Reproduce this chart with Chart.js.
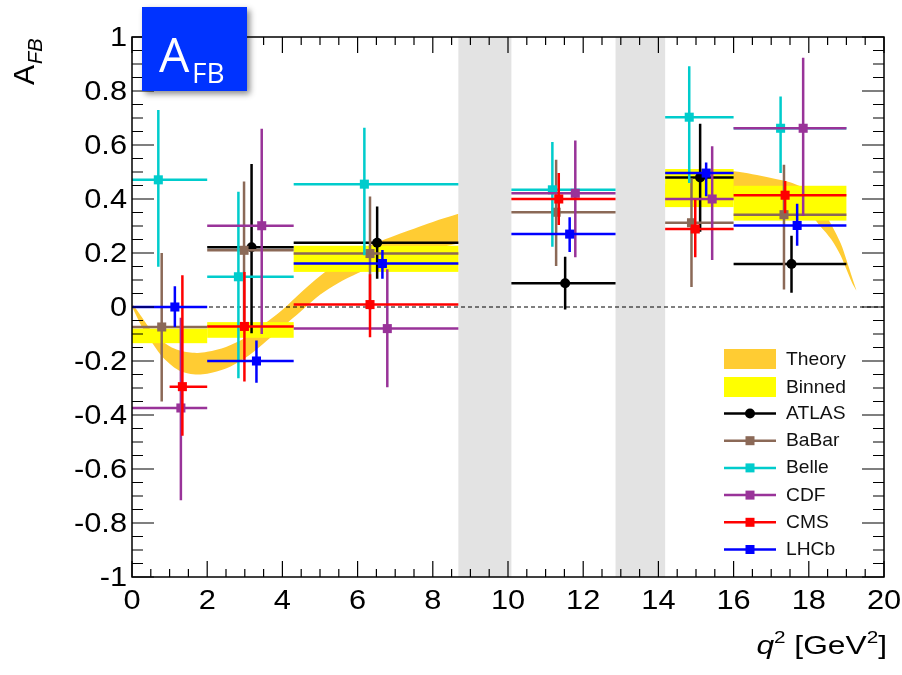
<!DOCTYPE html>
<html lang="en">
  <head>
    <meta charset="UTF-8" />
    <title>AFB vs q2</title>
    <script src="https://cdn.jsdelivr.net/npm/chart.js@4"></script>
    <style>
      html,
      body {
        margin: 0;
        padding: 0;
        background: #fff;
      }
      .chart-container {
        position: relative;
        width: 902px;
        height: 675px;
      }
    </style>
  </head>
  <body>
    <div class="chart-container">
      <canvas id="afbChart"></canvas>
    </div>

    <script>
      // axis ticks
      const xTicks = [0, 2, 4, 6, 8, 10, 12, 14, 16, 18, 20];
      const yTicks = [-1, -0.8, -0.6, -0.4, -0.2, 0, 0.2, 0.4, 0.6, 0.8, 1];
      const yTickLabels = ["-1", "-0.8", "-0.6", "-0.4", "-0.2", "0", "0.2", "0.4", "0.6", "0.8", "1"];

      // charmonium veto regions (grey)
      const vetoLo = [8.68, 12.86];
      const vetoHi = [10.09, 14.18];

      // theory band, low q2 piece
      const theoryQ2a = [0.02, 0.25, 0.5, 0.75, 1.0, 1.25, 1.5, 1.75, 2.0, 2.5, 3.0, 3.5, 4.0, 4.5, 5.0, 5.5, 6.0, 6.5, 7.0, 7.5, 8.0, 8.68];
      const theoryUpA = [0.01, -0.035, -0.085, -0.12, -0.145, -0.16, -0.168, -0.17, -0.166, -0.148, -0.115, -0.065, -0.01, 0.055, 0.115, 0.165, 0.205, 0.238, 0.265, 0.29, 0.315, 0.345];
      const theoryDnA = [-0.005, -0.07, -0.125, -0.175, -0.21, -0.235, -0.246, -0.25, -0.247, -0.228, -0.19, -0.135, -0.075, -0.015, 0.045, 0.09, 0.125, 0.155, 0.18, 0.2, 0.215, 0.235];

      // theory band, high q2 piece
      const theoryQ2b = [14.18, 14.5, 15.0, 15.5, 16.0, 16.5, 17.0, 17.5, 18.0, 18.3, 18.6, 18.85, 19.0, 19.15, 19.27];
      const theoryUpB = [0.455, 0.47, 0.485, 0.497, 0.503, 0.492, 0.478, 0.462, 0.43, 0.375, 0.305, 0.235, 0.175, 0.11, 0.06];
      const theoryDnB = [0.37, 0.38, 0.39, 0.4, 0.4, 0.395, 0.385, 0.37, 0.345, 0.3, 0.25, 0.19, 0.14, 0.09, 0.06];

      // binned theory (yellow boxes)
      const binLo = [0, 2, 4.3, 14.18, 16];
      const binHi = [2, 4.3, 8.68, 16, 19];
      const binUp = [-0.08, -0.056, 0.227, 0.511, 0.449];
      const binDn = [-0.134, -0.114, 0.13, 0.37, 0.32];

      // measurements
      const atlasQ2 = [3.18, 6.52, 11.52, 15.11, 17.54];
      const atlasLo = [2, 4.3, 10.09, 14.18, 16];
      const atlasHi = [4.3, 8.68, 12.86, 16, 19];
      const atlasA = [0.221, 0.238, 0.088, 0.48, 0.159];
      const atlasUp = [0.53, 0.372, 0.186, 0.679, 0.264];
      const atlasDn = [-0.097, 0.105, -0.009, 0.279, 0.053];

      const babarQ2 = [0.79, 2.98, 6.33, 11.28, 14.88, 17.34];
      const babarLo = [0, 2, 4.3, 10.09, 14.18, 16];
      const babarHi = [2, 4.3, 8.68, 12.86, 16, 19];
      const babarA = [-0.074, 0.21, 0.198, 0.351, 0.312, 0.342];
      const babarUp = [0.2, 0.465, 0.409, 0.545, 0.477, 0.527];
      const babarDn = [-0.35, -0.05, -0.01, 0.152, 0.074, 0.065];

      const belleQ2 = [0.7, 2.83, 6.18, 11.18, 14.82, 17.25];
      const belleLo = [0, 2, 4.3, 10.09, 14.18, 16];
      const belleHi = [2, 4.3, 8.68, 12.86, 16, 19];
      const belleA = [0.471, 0.112, 0.455, 0.434, 0.703, 0.662];
      const belleUp = [0.73, 0.427, 0.664, 0.611, 0.892, 0.78];
      const belleDn = [0.149, -0.264, 0.192, 0.223, 0.459, 0.496];

      const cdfQ2 = [1.3, 3.45, 6.79, 11.79, 15.43, 17.85];
      const cdfLo = [0, 2, 4.3, 10.09, 14.18, 16];
      const cdfHi = [2, 4.3, 8.68, 12.86, 16, 19];
      const cdfA = [-0.374, 0.301, -0.08, 0.421, 0.4, 0.662];
      const cdfUp = [-0.04, 0.66, 0.14, 0.617, 0.595, 0.923];
      const cdfDn = [-0.716, -0.1, -0.297, 0.184, 0.174, 0.337];

      const cmsQ2 = [1.34, 2.99, 6.33, 11.35, 14.98, 17.37];
      const cmsLo = [1, 2, 4.3, 10.09, 14.18, 16];
      const cmsHi = [2, 4.3, 8.68, 12.86, 16, 19];
      const cmsA = [-0.295, -0.072, 0.009, 0.4, 0.289, 0.414];
      const cmsUp = [0.118, 0.13, 0.121, 0.496, 0.397, 0.467];
      const cmsDn = [-0.477, -0.276, -0.112, 0.304, 0.184, 0.347];

      const lhcbQ2 = [1.14, 3.31, 6.66, 11.64, 15.27, 17.69];
      const lhcbLo = [0, 2, 4.3, 10.09, 14.18, 16];
      const lhcbHi = [2, 4.3, 8.68, 12.86, 16, 19];
      const lhcbA = [0.0, -0.2, 0.161, 0.27, 0.496, 0.302];
      const lhcbUp = [0.077, -0.124, 0.211, 0.332, 0.535, 0.382];
      const lhcbDn = [-0.074, -0.281, 0.105, 0.204, 0.41, 0.227];

      const THEORY_COLOR = "#ffcc33";
      const BINNED_COLOR = "#ffff00";
      const FONT = '"Liberation Sans", Arial, sans-serif';

      const pts = (xs, ys) => xs.map((x, i) => ({ x: x, y: ys[i] }));

      const experiments = [
        { label: "ATLAS", color: "#000000", style: "circle", radius: 5, q2: atlasQ2, lo: atlasLo, hi: atlasHi, a: atlasA, up: atlasUp, dn: atlasDn },
        { label: "BaBar", color: "#8b6957", style: "rect", radius: 6.4, q2: babarQ2, lo: babarLo, hi: babarHi, a: babarA, up: babarUp, dn: babarDn },
        { label: "Belle", color: "#00cccc", style: "rect", radius: 6.4, q2: belleQ2, lo: belleLo, hi: belleHi, a: belleA, up: belleUp, dn: belleDn },
        { label: "CDF", color: "#993399", style: "rect", radius: 6.4, q2: cdfQ2, lo: cdfLo, hi: cdfHi, a: cdfA, up: cdfUp, dn: cdfDn },
        { label: "CMS", color: "#ff0000", style: "rect", radius: 6.4, q2: cmsQ2, lo: cmsLo, hi: cmsHi, a: cmsA, up: cmsUp, dn: cmsDn },
        { label: "LHCb", color: "#0000ff", style: "rect", radius: 6.4, q2: lhcbQ2, lo: lhcbLo, hi: lhcbHi, a: lhcbA, up: lhcbUp, dn: lhcbDn },
      ];

      const bandEdge = (data, fill) => ({
        label: "theory",
        data: data,
        showLine: true,
        borderWidth: 1,
        borderColor: "rgba(0,0,0,0)",
        backgroundColor: THEORY_COLOR,
        pointRadius: 0,
        tension: 0.3,
        fill: fill,
        order: 20,
      });

      const datasets = [
        bandEdge(pts(theoryQ2a, theoryUpA), false),
        bandEdge(pts(theoryQ2a, theoryDnA), "-1"),
        bandEdge(pts(theoryQ2b, theoryUpB), false),
        bandEdge(pts(theoryQ2b, theoryDnB), "-1"),
      ];

      // later experiments are drawn on top (lower order)
      experiments.forEach((e, k) => {
        datasets.push({
          label: e.label,
          data: pts(e.q2, e.a),
          showLine: false,
          pointStyle: e.style,
          pointRadius: e.radius,
          pointBackgroundColor: e.color,
          pointBorderColor: e.color,
          pointBorderWidth: 0,
          borderColor: e.color,
          errors: e.q2.map((q, i) => ({ x: q, lo: e.lo[i], hi: e.hi[i], y: e.a[i], up: e.up[i], dn: e.dn[i] })),
          order: experiments.length - k,
        });
      });

      // text squeezed/stretched horizontally by sx
      function wideText(ctx, str, x, y, align, sx) {
        const w = ctx.measureText(str).width * sx;
        let x0 = x;
        if (align === "right") x0 = x - w;
        else if (align === "center") x0 = x - w / 2;
        ctx.save();
        ctx.translate(x0, y);
        ctx.scale(sx, 1);
        ctx.textAlign = "left";
        ctx.fillText(str, 0, 0);
        ctx.restore();
        return w;
      }

      function drawBinned(chart) {
        const { ctx, scales } = chart;
        ctx.save();
        ctx.fillStyle = BINNED_COLOR;
        binLo.forEach((lo, i) => {
          const x0 = scales.x.getPixelForValue(lo);
          const x1 = scales.x.getPixelForValue(binHi[i]);
          const y0 = scales.y.getPixelForValue(binUp[i]);
          const y1 = scales.y.getPixelForValue(binDn[i]);
          ctx.fillRect(x0, y0, x1 - x0, y1 - y0);
        });
        // dashed zero line
        const y0 = scales.y.getPixelForValue(0);
        ctx.strokeStyle = "#000";
        ctx.lineWidth = 1;
        ctx.setLineDash([4, 3]);
        ctx.beginPath();
        ctx.moveTo(chart.chartArea.left, y0);
        ctx.lineTo(chart.chartArea.right, y0);
        ctx.stroke();
        ctx.restore();
      }

      function drawErrors(chart, ds) {
        const { ctx, scales } = chart;
        ctx.save();
        ctx.strokeStyle = ds.borderColor;
        ctx.lineWidth = 2.5;
        ds.errors.forEach((e) => {
          const px = scales.x.getPixelForValue(e.x);
          const py = scales.y.getPixelForValue(e.y);
          ctx.beginPath();
          ctx.moveTo(scales.x.getPixelForValue(e.lo), py);
          ctx.lineTo(scales.x.getPixelForValue(e.hi), py);
          ctx.moveTo(px, scales.y.getPixelForValue(e.up));
          ctx.lineTo(px, scales.y.getPixelForValue(e.dn));
          ctx.stroke();
        });
        ctx.restore();
      }

      function drawFrame(chart) {
        const { ctx, scales } = chart;
        const { left, right, top, bottom } = chart.chartArea;
        ctx.save();
        ctx.strokeStyle = "#000";
        ctx.lineWidth = 1.5;
        ctx.strokeRect(left, top, right - left, bottom - top);

        ctx.lineWidth = 1.2;
        ctx.beginPath();
        // y ticks, 4 divisions between labels
        for (let i = 0; i < yTicks.length; i++) {
          const py = scales.y.getPixelForValue(yTicks[i]);
          ctx.moveTo(left, py);
          ctx.lineTo(left + 22, py);
          ctx.moveTo(right, py);
          ctx.lineTo(right - 22, py);
          if (i < yTicks.length - 1) {
            const step = (yTicks[i + 1] - yTicks[i]) / 4;
            for (let k = 1; k < 4; k++) {
              const pm = scales.y.getPixelForValue(yTicks[i] + k * step);
              ctx.moveTo(left, pm);
              ctx.lineTo(left + 11, pm);
              ctx.moveTo(right, pm);
              ctx.lineTo(right - 11, pm);
            }
          }
        }
        for (let i = 0; i < xTicks.length; i++) {
          const px = scales.x.getPixelForValue(xTicks[i]);
          ctx.moveTo(px, bottom);
          ctx.lineTo(px, bottom - 16);
          ctx.moveTo(px, top);
          ctx.lineTo(px, top + 16);
          if (i < xTicks.length - 1) {
            const step = (xTicks[i + 1] - xTicks[i]) / 4;
            for (let k = 1; k < 4; k++) {
              const pm = scales.x.getPixelForValue(xTicks[i] + k * step);
              ctx.moveTo(pm, bottom);
              ctx.lineTo(pm, bottom - 8);
              ctx.moveTo(pm, top);
              ctx.lineTo(pm, top + 8);
            }
          }
        }
        ctx.stroke();

        // tick labels
        ctx.fillStyle = "#000";
        ctx.font = "27px " + FONT;
        ctx.textBaseline = "middle";
        yTicks.forEach((v, i) => {
          wideText(ctx, yTickLabels[i], left - 5, scales.y.getPixelForValue(v) + 2, "right", 1.14);
        });
        xTicks.forEach((v) => {
          wideText(ctx, String(v), scales.x.getPixelForValue(v), bottom + 25, "center", 1.14);
        });
        ctx.restore();
      }

      function drawTitles(chart) {
        const ctx = chart.ctx;
        const { right } = chart.chartArea;
        ctx.save();
        ctx.fillStyle = "#000";
        ctx.textBaseline = "alphabetic";
        ctx.textAlign = "left";

        // y title A_FB, rotated
        ctx.translate(33.5, 85);
        ctx.rotate(-Math.PI / 2);
        ctx.font = "30px " + FONT;
        ctx.fillText("A", 0, 0);
        const wA = ctx.measureText("A").width;
        ctx.font = "italic 20px " + FONT;
        ctx.fillText("FB", wA + 1, 8.5);
        ctx.setTransform(1, 0, 0, 1, 0, 0);

        // x title q^2 [GeV^2], right aligned
        const sx = 1.22;
        const parts = [
          { t: "q", f: "italic 26px " + FONT, dy: 0 },
          { t: "2", f: "17px " + FONT, dy: -11 },
          { t: " [GeV", f: "26px " + FONT, dy: 0 },
          { t: "2", f: "17px " + FONT, dy: -11 },
          { t: "]", f: "26px " + FONT, dy: 0 },
        ];
        let total = 0;
        parts.forEach((p) => {
          ctx.font = p.f;
          p.w = ctx.measureText(p.t).width * sx;
          total += p.w;
        });
        let x = right + 3 - total;
        parts.forEach((p) => {
          ctx.font = p.f;
          x += wideText(ctx, p.t, x, 654 + p.dy, "left", sx);
        });
        ctx.restore();
      }

      function drawLegend(chart) {
        const ctx = chart.ctx;
        const x0 = 724, x1 = 776, tx = 786;
        ctx.save();
        ctx.font = "18.5px " + FONT;
        ctx.textBaseline = "middle";
        ctx.textAlign = "left";
        ctx.fillStyle = THEORY_COLOR;
        ctx.fillRect(x0, 349, x1 - x0, 20);
        ctx.fillStyle = BINNED_COLOR;
        ctx.fillRect(x0, 377, x1 - x0, 20);
        ctx.fillStyle = "#111";
        wideText(ctx, "Theory", tx, 359.5, "left", 1.04);
        wideText(ctx, "Binned", tx, 387.5, "left", 1.04);
        experiments.forEach((e, i) => {
          const y = 413.5 + i * 27.2;
          ctx.strokeStyle = e.color;
          ctx.fillStyle = e.color;
          ctx.lineWidth = 2.5;
          ctx.beginPath();
          ctx.moveTo(x0, y);
          ctx.lineTo(x1, y);
          ctx.stroke();
          const cx = (x0 + x1) / 2;
          if (e.style === "circle") {
            ctx.beginPath();
            ctx.arc(cx, y, 5, 0, Math.PI * 2);
            ctx.fill();
          } else {
            ctx.fillRect(cx - 4.5, y - 4.5, 9, 9);
          }
          ctx.fillStyle = "#111";
          wideText(ctx, e.label, tx, y + 0.5, "left", 1.04);
        });
        ctx.restore();
      }

      function drawBadge(chart) {
        const ctx = chart.ctx;
        ctx.save();
        ctx.shadowColor = "rgba(0,0,0,0.45)";
        ctx.shadowBlur = 6;
        ctx.shadowOffsetX = 3;
        ctx.shadowOffsetY = 3;
        ctx.fillStyle = "#0033ff";
        ctx.fillRect(142, 7, 105, 84);
        ctx.shadowColor = "rgba(0,0,0,0)";
        ctx.fillStyle = "#fff";
        ctx.textBaseline = "alphabetic";
        ctx.textAlign = "left";
        ctx.font = '48px "Open Sans", sans-serif';
        ctx.fillText("A", 159, 72);
        ctx.font = '28px "Open Sans", sans-serif';
        ctx.fillText("FB", 192, 83);
        ctx.restore();
      }

      const decorPlugin = {
        id: "decor",
        beforeDatasetsDraw(chart) {
          const { ctx, scales } = chart;
          const { top, bottom } = chart.chartArea;
          ctx.save();
          ctx.fillStyle = "#e3e3e3";
          vetoLo.forEach((lo, i) => {
            const x0 = scales.x.getPixelForValue(lo);
            const x1 = scales.x.getPixelForValue(vetoHi[i]);
            ctx.fillRect(x0, top, x1 - x0, bottom - top);
          });
          ctx.restore();
        },
        beforeDatasetDraw(chart, args) {
          const ds = chart.data.datasets[args.index];
          if (ds.label === "ATLAS") drawBinned(chart);
          if (ds.errors) drawErrors(chart, ds);
        },
        afterDraw(chart) {
          drawFrame(chart);
          drawTitles(chart);
          drawLegend(chart);
          drawBadge(chart);
        },
      };

      window.onload = function () {
        const ctx = document.getElementById("afbChart").getContext("2d");
        new Chart(ctx, {
          type: "line",
          data: { datasets: datasets },
          options: {
            responsive: true,
            maintainAspectRatio: false,
            animation: false,
            layout: { padding: { left: 132, right: 18, top: 37, bottom: 98 } },
            plugins: { legend: { display: false }, tooltip: { enabled: false } },
            scales: {
              x: { type: "linear", min: 0, max: 20, display: false },
              y: { type: "linear", min: -1, max: 1, display: false },
            },
          },
          plugins: [decorPlugin],
        });
      };
    </script>
  </body>
</html>
